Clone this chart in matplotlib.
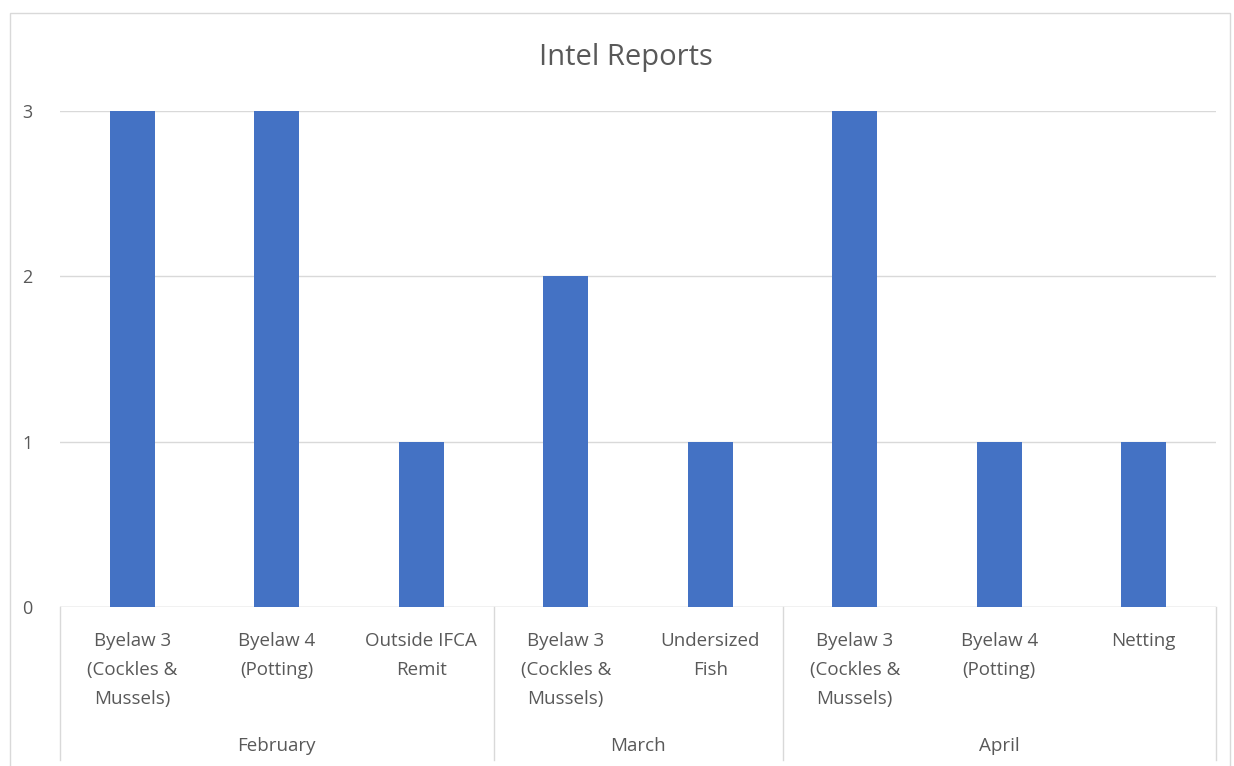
import matplotlib.pyplot as plt
import matplotlib.transforms as mtransforms
from matplotlib.patches import Rectangle
import numpy as np

plt.rcParams['font.family'] = ['Open Sans', 'DejaVu Sans']

# data
categories = ["Byelaw 3\n(Cockles &\nMussels)", "Byelaw 4\n(Potting)", "Outside IFCA\nRemit",
              "Byelaw 3\n(Cockles &\nMussels)", "Undersized\nFish",
              "Byelaw 3\n(Cockles &\nMussels)", "Byelaw 4\n(Potting)", "Netting"]
values = [3, 3, 1, 2, 1, 3, 1, 1]
months = ["February", "March", "April"]
month_sizes = [3, 2, 3]

bar_color = "#4472C4"
text_color = "#595959"
grid_color = "#D9D9D9"

W, H = 1234, 766
fig = plt.figure(figsize=(W / 100, H / 100), dpi=100)

# outer chart border
fig.patches.append(Rectangle((10 / W, -0.01), (1230 - 10) / W, (H - 13) / H + 0.01,
                             transform=fig.transFigure, fill=False,
                             edgecolor=grid_color, linewidth=1))

ax = fig.add_axes([60 / W, (H - 607) / H, (1216 - 60) / W, (607 - 111) / H])

x = np.arange(len(values))
ax.bar(x, values, width=0.31, color=bar_color, zorder=3)

ax.set_xlim(-0.5, len(values) - 0.5)
ax.set_ylim(0, 3)
ax.set_yticks([0, 1, 2, 3])
ax.yaxis.grid(True, color=grid_color, linewidth=1)
ax.set_axisbelow(True)
ax.tick_params(axis='y', length=0, pad=20, labelsize=13, labelcolor=text_color)
ax.set_xticks([])
for s in ax.spines.values():
    s.set_visible(False)
ax.axhline(0, color=grid_color, linewidth=1, zorder=2)

trans = mtransforms.blended_transform_factory(ax.transData, ax.transAxes)

# category labels
for xi, lab in zip(x, categories):
    ax.text(xi, -0.05, lab, transform=trans, ha='center', va='top',
            fontsize=13.5, color=text_color, linespacing=1.78)

# month group labels and separators
start = 0
bounds = [-0.5]
for m, n in zip(months, month_sizes):
    centre = start + (n - 1) / 2
    ax.text(centre, -0.262, m, transform=trans, ha='center', va='top',
            fontsize=13.5, color=text_color)
    start += n
    bounds.append(start - 0.5)
for b in bounds:
    ax.plot([b, b], [0, -0.308], transform=trans, color=grid_color,
            linewidth=1, clip_on=False)

fig.text(626 / W, (H - 57) / H, "Intel Reports", ha='center', va='center',
         fontsize=21, color=text_color)

fig.savefig("out.png", dpi=100)
